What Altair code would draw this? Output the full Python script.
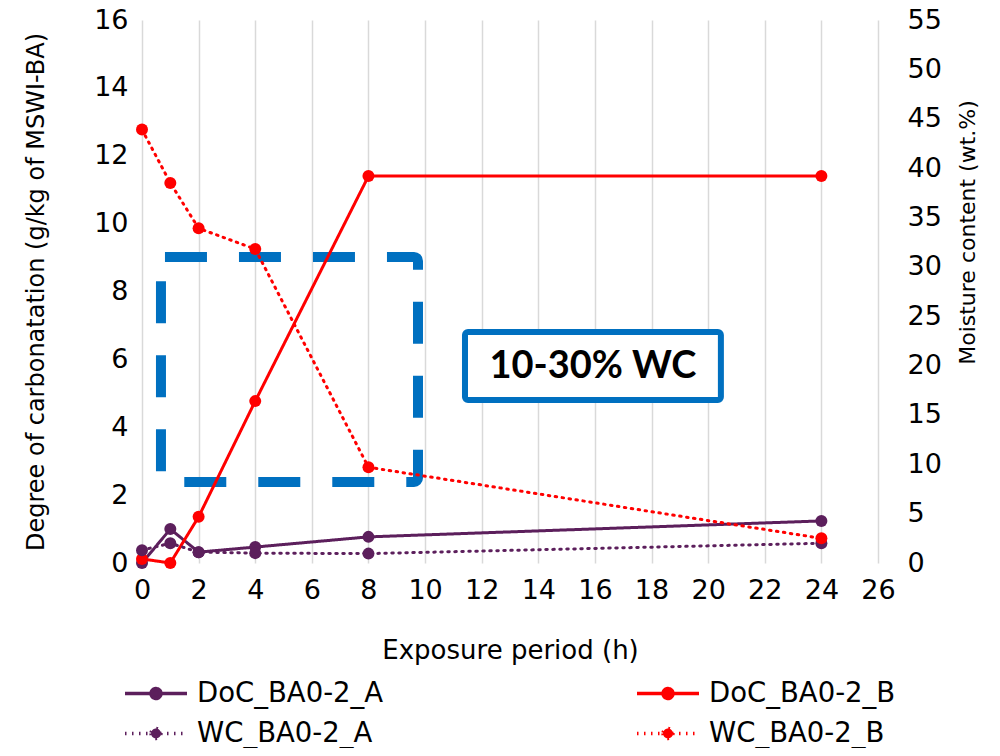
import altair as alt
import pandas as pd

hours = [0, 1, 2, 4, 8, 24]
doc_a = [0.0, 1.0, 0.32, 0.47, 0.77, 1.24]
doc_b = [0.12, 0.0, 1.36, 4.77, 11.4, 11.4]
wc_a = [1.3, 2.0, 1.1, 1.0, 0.95, 2.0]
wc_b = [43.9, 38.5, 33.9, 31.8, 9.7, 2.5]
series_names = ["DoC_BA0-2_A", "DoC_BA0-2_B", "WC_BA0-2_A", "WC_BA0-2_B"]
series_colors = ["#5c1f5c", "#ff0000", "#5c1f5c", "#ff0000"]
series_dash = [[1, 0], [1, 0], [1.5, 5.5], [1.5, 5.5]]
x_ticks = list(range(0, 27, 2))
left_ticks = list(range(0, 17, 2))
right_ticks = list(range(0, 56, 5))

FONT = "DejaVu Sans"
BLUE = "#0070c0"

doc_df = pd.DataFrame({
    "h": hours * 2,
    "v": doc_a + doc_b,
    "s": [series_names[0]] * len(hours) + [series_names[1]] * len(hours),
})
wc_df = pd.DataFrame({
    "h": hours * 2,
    "v": wc_a + wc_b,
    "s": [series_names[2]] * len(hours) + [series_names[3]] * len(hours),
})

legend = alt.Legend(
    title=None, orient="none", legendX=-3.5, legendY=656, columns=2, direction="horizontal",
    columnPadding=246, rowPadding=9, labelFont=FONT, labelFontSize=27.5, labelLimit=500,
    labelColor="black", labelOffset=23.5,
    symbolType="M-2,0H2M-0.32,0A0.32,0.32,0,1,0,0.32,0A0.32,0.32,0,1,0,-0.32,0Z",
    symbolSize=961, symbolStrokeWidth=3.5,
)
color = alt.Color("s:N", scale=alt.Scale(domain=series_names, range=series_colors), legend=legend)
dash = alt.StrokeDash("s:N", scale=alt.Scale(domain=series_names, range=series_dash), legend=legend)

x_scale = alt.Scale(domain=[0, 26], nice=False)
x_axis = alt.Axis(values=x_ticks, grid=True, gridColor="#d9d9d9", gridWidth=1.5,
                  domain=False, ticks=False, labelPadding=14, titlePadding=34,
                  labelFlush=False)
x_title = "Exposure period (h)"

left_title = "Degree of carbonatation (g/kg of MSWI-BA)"
left_scale = alt.Scale(domain=[0, 16], nice=False)
left_axis = alt.Axis(values=left_ticks, orient="left", grid=False, domain=False, ticks=False,
                     labelPadding=14, titlePadding=45, titleFontSize=24, labelFlush=False)

right_title = "Moisture content (wt.%)"
right_scale = alt.Scale(domain=[0, 55], nice=False)
right_axis = alt.Axis(values=right_ticks, orient="right", grid=False, domain=False, ticks=False,
                      labelPadding=29, titlePadding=16, titleFontSize=22,
                      titleAngle=270, titleBaseline="top", titleY=212, labelFlush=False)

X = alt.X("h:Q", scale=x_scale, axis=x_axis, title=x_title)
YL = alt.Y("v:Q", scale=left_scale, axis=left_axis, title=left_title)
YR = alt.Y("v:Q", scale=right_scale, axis=right_axis, title=right_title)

# dashed highlight box (left-axis units)
box_df = pd.DataFrame({"x1": [0.67], "x2": [9.75], "y1": [2.39], "y2": [9.02]})
dash_box = alt.Chart(box_df).mark_rect(
    filled=False, stroke=BLUE, strokeWidth=10, strokeDash=[42, 32], cornerRadius=4
).encode(
    x=alt.X("x1:Q", scale=x_scale, axis=x_axis, title=x_title), x2="x2:Q",
    y=alt.Y("y1:Q", scale=left_scale, axis=left_axis, title=left_title), y2="y2:Q",
)

label_df = pd.DataFrame({"x1": [11.41], "x2": [20.45], "y1": [4.80], "y2": [6.81],
                         "xc": [15.93], "yc": [5.78], "t": ["10-30% WC"]})
label_box = alt.Chart(label_df).mark_rect(
    fill="white", stroke=BLUE, strokeWidth=6, cornerRadius=3
).encode(
    x=alt.X("x1:Q", scale=x_scale, axis=x_axis, title=x_title), x2="x2:Q",
    y=alt.Y("y1:Q", scale=left_scale, axis=left_axis, title=left_title), y2="y2:Q",
)
label_text = alt.Chart(label_df).mark_text(
    font="Lato", fontWeight="bold", fontSize=38, color="black", align="center", baseline="middle"
).encode(
    x=alt.X("xc:Q", scale=x_scale, axis=x_axis, title=x_title),
    y=alt.Y("yc:Q", scale=left_scale, axis=left_axis, title=left_title),
    text="t:N",
)

doc_lines = alt.Chart(doc_df).mark_line(strokeWidth=3, strokeCap="round").encode(
    x=X, y=YL, color=color, strokeDash=dash)
doc_points = alt.Chart(doc_df).mark_point(filled=True, size=144, opacity=1).encode(
    x=X, y=YL, color=color)

wc_lines = alt.Chart(wc_df).mark_line(strokeWidth=3, strokeCap="round").encode(
    x=X, y=YR, color=color, strokeDash=dash)
wc_points = alt.Chart(wc_df).mark_point(filled=True, size=144, opacity=1).encode(
    x=X, y=YR, color=color)

left = alt.layer(dash_box, doc_lines, doc_points, label_box, label_text)
right = alt.layer(wc_lines, wc_points)

chart = alt.layer(left, right).resolve_scale(y="independent").properties(
    width=736, height=543,
    autosize=alt.AutoSizeParams(type="none"),
    padding={"left": 134, "top": 12, "right": 114, "bottom": 185},
).configure_view(stroke=None).configure_axis(
    labelFont=FONT, labelFontSize=27, labelColor="black",
    titleFont=FONT, titleFontSize=26, titleFontWeight="normal", titleColor="black",
)

chart.save("out.html", embed_options={"renderer": "svg", "actions": False})
